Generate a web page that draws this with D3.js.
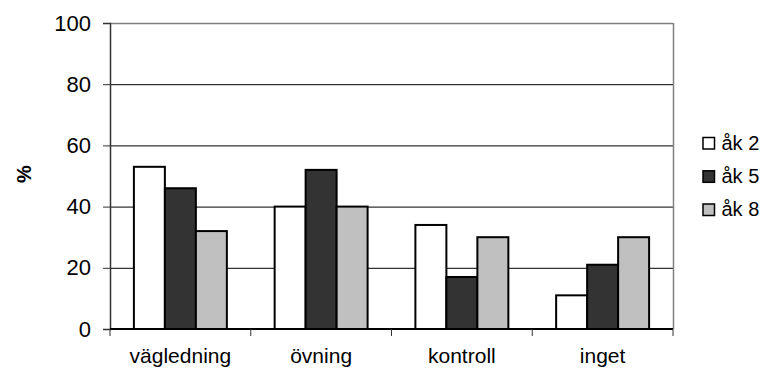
<!DOCTYPE html>
<html>
<head>
<meta charset="utf-8">
<script src="https://cdn.jsdelivr.net/npm/d3@7"></script>
<style>
  body { margin: 0; background: #fff; }
  svg { display: block; font-family: "Liberation Sans", Arial, sans-serif; }
</style>
</head>
<body>
<svg id="chart" width="763" height="372"></svg>
<script>
// Categories, series and axis ticks
const categories = ["vägledning", "övning", "kontroll", "inget"];
const seriesNames = ["åk 2", "åk 5", "åk 8"];
const ak2 = [53, 40, 34, 11];
const ak5 = [46, 52, 17, 21];
const ak8 = [32, 40, 30, 30];
const yTicks = [0, 20, 40, 60, 80, 100];
const seriesColors = ["#ffffff", "#333333", "#c0c0c0"];

const seriesValues = [ak2, ak5, ak8];
const rows = categories.map((c, i) => ({
  category: c,
  values: seriesNames.map((s, j) => ({ series: s, value: seriesValues[j][i], idx: j }))
}));

const svg = d3.select("#chart");
const margin = { left: 110, top: 23 };
const plotW = 673 - margin.left;
const plotH = 329 - margin.top;

const g = svg.append("g").attr("transform", `translate(${margin.left},${margin.top})`);

const x0 = d3.scaleBand().domain(categories).range([0, plotW]).paddingInner(0).paddingOuter(0);
const groupW = x0.bandwidth() * (93 / 140.8);
const x1 = d3.scaleBand().domain(seriesNames).range([0, groupW]).padding(0);
const y = d3.scaleLinear().domain([0, 100]).range([plotH, 0]);

// Horizontal gridlines
g.selectAll("line.grid")
  .data(yTicks.filter(t => t > 0))
  .join("line")
  .attr("class", "grid")
  .attr("x1", 0).attr("x2", plotW)
  .attr("y1", d => y(d) + 0.5).attr("y2", d => y(d) + 0.5)
  .attr("stroke", d => d === 100 ? "#808080" : "#000")
  .attr("stroke-width", d => d === 100 ? 1.5 : 1);

// Right border of the plot area
g.append("line")
  .attr("x1", plotW + 0.5).attr("x2", plotW + 0.5)
  .attr("y1", 0).attr("y2", plotH)
  .attr("stroke", "#808080").attr("stroke-width", 1.5);

// Bars
const groups = g.selectAll("g.cat")
  .data(rows)
  .join("g")
  .attr("class", "cat")
  .attr("transform", d => `translate(${x0(d.category) + (x0.bandwidth() - groupW) / 2},0)`);

groups.selectAll("rect")
  .data(d => d.values)
  .join("rect")
  .attr("x", d => x1(d.series))
  .attr("y", d => y(d.value))
  .attr("width", x1.bandwidth())
  .attr("height", d => plotH - y(d.value))
  .attr("fill", d => seriesColors[d.idx])
  .attr("stroke", "#000")
  .attr("stroke-width", 2);

// Y axis
const yAxis = d3.axisLeft(y).tickValues(yTicks).tickSize(7).tickPadding(12).tickFormat(d3.format("d"));
const yg = g.append("g").call(yAxis);
yg.select(".domain").attr("stroke", "#333").attr("stroke-width", 1.5);
yg.selectAll(".tick line").attr("stroke", "#333");
yg.selectAll("text").attr("font-size", 22).attr("fill", "#000")
  .attr("font-family", "'Liberation Sans', Arial, sans-serif");

// X axis with ticks at category boundaries
const xAxisG = g.append("g").attr("transform", `translate(0,${plotH})`);
xAxisG.append("line").attr("x1", 0).attr("x2", plotW).attr("y1", 0).attr("y2", 0)
  .attr("stroke", "#000").attr("stroke-width", 2);
const bounds = categories.map(c => x0(c)).concat([plotW]);
xAxisG.selectAll("line.tk").data(bounds).join("line").attr("class", "tk")
  .attr("x1", d => d).attr("x2", d => d).attr("y1", 0).attr("y2", 7)
  .attr("stroke", "#333").attr("stroke-width", 1);
xAxisG.selectAll("text").data(categories).join("text")
  .attr("x", d => x0(d) + x0.bandwidth() / 2)
  .attr("y", 34)
  .attr("text-anchor", "middle")
  .attr("font-size", 21)
  .text(d => d);

// Y axis title
svg.append("text")
  .attr("transform", "translate(31,174) rotate(-90)")
  .attr("text-anchor", "middle")
  .attr("font-size", 20)
  .attr("font-weight", "bold")
  .text("%");

// Legend
const legend = svg.append("g").attr("transform", "translate(703,0)");
const legendBase = [149.5, 182.8, 216];
seriesNames.forEach((s, i) => {
  legend.append("rect")
    .attr("x", 0).attr("y", legendBase[i] - 12)
    .attr("width", 11.5).attr("height", 11.5)
    .attr("fill", seriesColors[i]).attr("stroke", "#000").attr("stroke-width", 1.5);
  legend.append("text")
    .attr("x", 18.5).attr("y", legendBase[i])
    .attr("font-size", 20)
    .text(s);
});
</script>
</body>
</html>
